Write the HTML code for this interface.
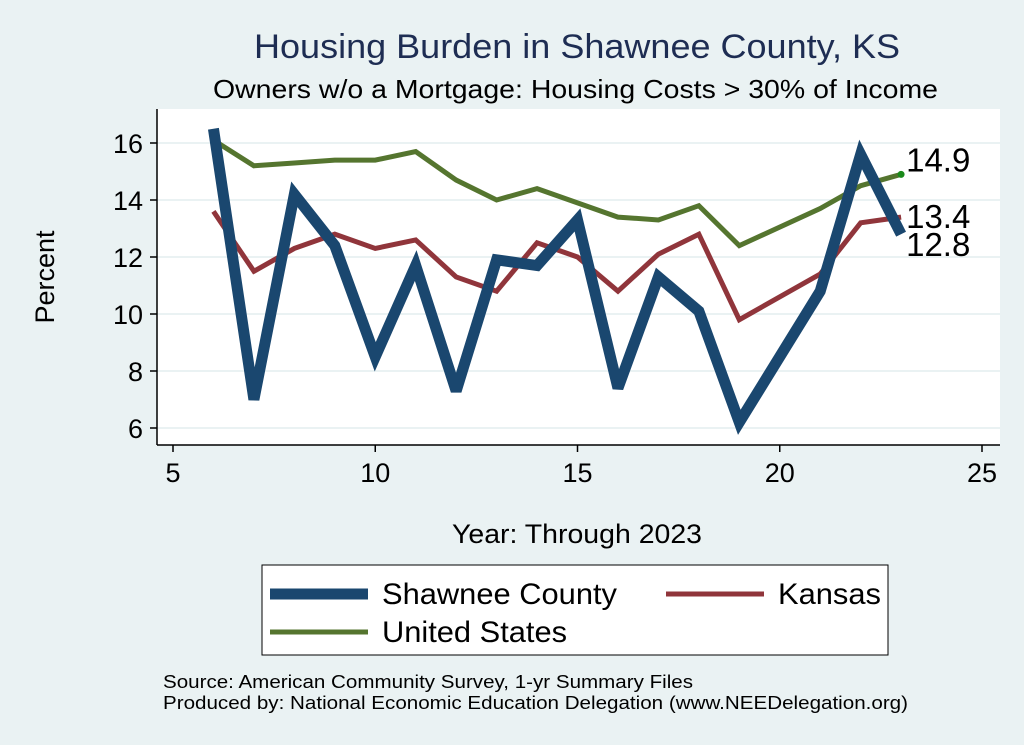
<!DOCTYPE html>
<html><head><meta charset="utf-8"><style>
body{margin:0;background:#eaf2f3;}
svg{display:block;font-family:"Liberation Sans",sans-serif;}
</style></head><body>
<svg id="c" width="1024" height="745">
<rect x="0" y="0" width="1024" height="745" fill="#eaf2f3"/>
<text x="254" y="58" font-size="34" fill="#1e2d53" textLength="646" lengthAdjust="spacingAndGlyphs">Housing Burden in Shawnee County, KS</text>
<text x="213" y="98" font-size="26" fill="#000" textLength="725" lengthAdjust="spacingAndGlyphs">Owners w/o a Mortgage: Housing Costs &gt; 30% of Income</text>
<rect x="157" y="109" width="843" height="336" fill="#fff"/>
<g id="grid"></g><g id="axes"></g><g id="series"></g><g id="labels"></g>
<text x="54" y="277" font-size="27" text-anchor="middle" transform="rotate(-90 54 277)">Percent</text>
<text x="452" y="543" font-size="27" textLength="250" lengthAdjust="spacingAndGlyphs">Year: Through 2023</text>
<g>
<rect x="262" y="565" width="626" height="90" fill="#fff" stroke="#000" stroke-width="1"/>
<line x1="270" y1="594" x2="368" y2="594" stroke="#1a476f" stroke-width="11"/>
<text x="382" y="604" font-size="30" textLength="235" lengthAdjust="spacingAndGlyphs">Shawnee County</text>
<line x1="666" y1="594" x2="764" y2="594" stroke="#90353b" stroke-width="5"/>
<text x="778" y="604" font-size="30" textLength="103" lengthAdjust="spacingAndGlyphs">Kansas</text>
<line x1="270" y1="632" x2="368" y2="632" stroke="#55752f" stroke-width="5"/>
<text x="382" y="642" font-size="30" textLength="185" lengthAdjust="spacingAndGlyphs">United States</text>
</g>
<text x="163" y="688" font-size="18" textLength="530" lengthAdjust="spacingAndGlyphs">Source: American Community Survey, 1-yr Summary Files</text>
<text x="163" y="709" font-size="18" textLength="745" lengthAdjust="spacingAndGlyphs">Produced by: National Economic Education Delegation (www.NEEDelegation.org)</text>
</svg>
<script>
const years=[6,7,8,9,10,11,12,13,14,15,16,17,18,19,21,22,23];
const shawnee=[16.5,7.0,14.2,12.4,8.5,11.7,7.3,11.9,11.7,13.3,7.4,11.3,10.1,6.2,10.8,15.6,12.8];
const kansas=[13.6,11.5,12.3,12.8,12.3,12.6,11.3,10.8,12.5,12.0,10.8,12.1,12.8,9.8,11.4,13.2,13.4];
const us=[16.1,15.2,15.3,15.4,15.4,15.7,14.7,14.0,14.4,13.9,13.4,13.3,13.8,12.4,13.7,14.5,14.9];
const xTicks=[5,10,15,20,25];
const yTicks=[6,8,10,12,14,16];
const NS='http://www.w3.org/2000/svg';
const X=v=>173+(v-5)*(982-173)/20;
const Y=v=>428-(v-6)*28.5;
function mk(t,a,p){const e=document.createElementNS(NS,t);for(const k in a)e.setAttribute(k,a[k]);document.getElementById(p).appendChild(e);return e;}
mk('line',{x1:157,y1:109,x2:157,y2:445,stroke:'#000','stroke-width':1.5},'axes');
mk('line',{x1:157,y1:445,x2:1000,y2:445,stroke:'#000','stroke-width':1.5},'axes');
yTicks.forEach(v=>{
 const g=mk('line',{x1:157,y1:Y(v),x2:1000,y2:Y(v),stroke:'#eaf2f3','stroke-width':2},'grid');
 
 
 const t=mk('line',{x1:150,y1:Y(v),x2:157,y2:Y(v),stroke:'#000','stroke-width':1.5},'axes');
 
 
 const l=mk('text',{x:143,y:Y(v)+10,'font-size':27,'text-anchor':'end'},'axes');l.textContent=v;
 
 
});
xTicks.forEach(v=>{
 const t=mk('line',{x1:X(v),y1:445,x2:X(v),y2:452,stroke:'#000','stroke-width':1.5},'axes');
 
 
 const l=mk('text',{x:X(v),y:482,'font-size':27,'text-anchor':'middle'},'axes');l.textContent=v;
 
 
});
function line(vals,col,w,name){
 const p=mk('polyline',{points:years.map((y,i)=>X(y)+','+Y(vals[i])).join(' '),fill:'none',stroke:col,'stroke-width':w,'stroke-linejoin':'miter','stroke-miterlimit':3},'series');
 
 
}
line(us,'#55752f',5,'line-united-states');
line(kansas,'#90353b',5,'line-kansas');
line(shawnee,'#1a476f',11,'line-shawnee-county');
const n=years.length-1;
const dot=mk('circle',{cx:X(years[n]),cy:Y(us[n]),r:3.5,fill:'#1a8a1a'},'series');


[[us,-7],[kansas,7],[shawnee,18]].forEach(([s,dy],i)=>{
 const l=mk('text',{x:X(years[n])+5,y:Y(s[n])+dy+4,'font-size':33},'labels');
 l.textContent=s[n].toFixed(1);
 
 
});
</script>
</body></html>
